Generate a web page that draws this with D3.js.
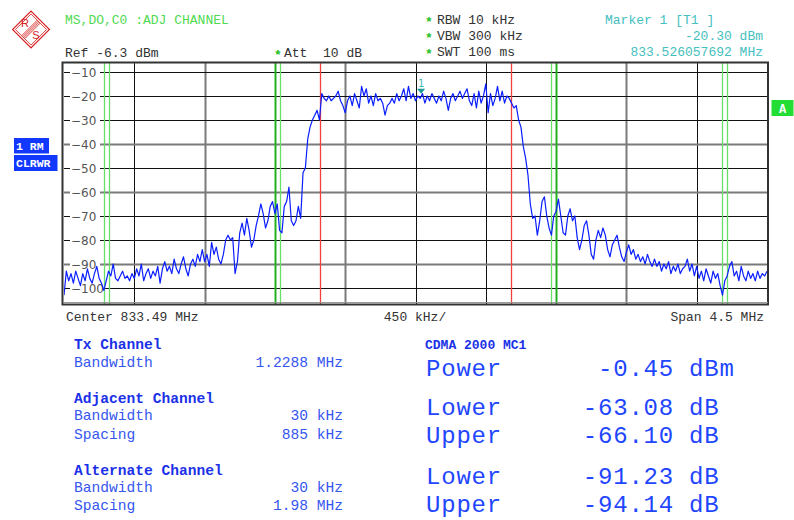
<!DOCTYPE html>
<html>
<head>
<meta charset="utf-8">
<script src="https://cdn.jsdelivr.net/npm/d3@7"></script>
<style>
body { margin: 0; background: #fff; }
svg { display: block; }
.mono { font-family: "Liberation Mono", "DejaVu Sans Mono", monospace; white-space: pre; }
</style>
</head>
<body>
<svg id="chart" width="794" height="520"></svg>
<script>
// analyzer settings
var centerMHz = 833.49;
var spanMHz = 4.5;
var refLevel = -6.3;
var rangeDb = 100;

var yTicks = [-10, -20, -30, -40, -50, -60, -70, -80, -90, -100];
var heavyY = [-40, -60, -90];      // grid lines that show as wide grey
var heavyX = [2, 4, 8];

// channel setup
var txBw = 1.2288;
var adjBw = 0.030, adjSpacing = 0.885;
var altBw = 0.030, altSpacing = 1.98;

var markerF = 833.526057692;
var markerV = -20.30;

// trace, 301 points across the span (dBm)
var trace = [
-103,-93,-97,-94,-98,-93,-96,-99,-94,-97,-92,-96,-98,-94,-91,-96,-98,-101,-97,-93,
-95,-90,-96,-97,-95,-93,-96,-95,-97,-94,-96,-92,-95,-90,-97,-94,-92,-96,-93,-95,
-91,-98,-92,-89,-93,-91,-94,-88,-92,-94,-90,-87,-92,-95,-90,-88,-91,-86,-89,-84,
-89,-86,-91,-81,-86,-83,-88,-90,-86,-80,-78,-80,-79,-94,-89,-77,-73,-78,-71,-76,
-83,-80,-74,-70,-65,-69,-75,-72,-66,-64,-69,-65,-76,-77,-66,-64,-58,-72,-74,-72,
-66,-71,-52,-50,-38,-33,-30,-28,-26,-30,-19,-21,-22,-20,-22,-21,-20,-18,-22,-24,
-27,-22,-20,-24,-19,-22,-25,-16,-20,-17,-23,-20,-24,-19,-22,-21,-23,-28,-24,-23,
-21,-23,-19,-22,-20,-17,-22,-16,-21,-19,-22,-20,-21,-19,-23,-20,-22,-19,-21,-23,
-20,-22,-18,-21,-26,-21,-19,-22,-20,-18,-21,-19,-17,-22,-24,-19,-25,-18,-23,-20,
-15,-27,-19,-24,-21,-16,-22,-18,-23,-20,-21,-23,-25,-24,-30,-33,-41,-46,-53,-65,
-71,-70,-78,-72,-64,-62,-70,-75,-78,-70,-68,-63,-70,-77,-78,-70,-67,-72,-70,-79,
-84,-80,-74,-72,-78,-86,-88,-80,-76,-79,-75,-78,-84,-87,-82,-80,-78,-83,-87,-89,
-85,-82,-86,-84,-88,-86,-89,-87,-90,-86,-89,-91,-88,-91,-89,-93,-90,-92,-89,-94,
-91,-93,-90,-94,-92,-91,-88,-93,-90,-95,-91,-96,-93,-97,-92,-95,-98,-93,-96,-94,
-99,-103,-97,-95,-91,-89,-95,-93,-97,-91,-95,-97,-93,-96,-94,-97,-93,-96,-94,-95,
-93
];

var svg = d3.select('#chart');

var plot = {left: 64, right: 767, top: 63.1, bottom: 303.1};

var fStart = centerMHz - spanMHz / 2,
    fStop = centerMHz + spanMHz / 2,
    fStep = spanMHz / (trace.length - 1);

var x = d3.scaleLinear().domain([fStart, fStop]).range([plot.left, plot.right]);
var y = d3.scaleLinear().domain([refLevel - rangeDb, refLevel]).range([plot.bottom, plot.top]);

// ---- logo
var logo = svg.append('g').attr('transform', 'translate(31,29.5)');
var sq = logo.append('g').attr('transform', 'rotate(45)');
sq.append('rect').attr('x', -13).attr('y', -13).attr('width', 26).attr('height', 26)
  .attr('fill', 'none').attr('stroke', '#d42020').attr('stroke-width', 1.2);
sq.append('rect').attr('x', -11).attr('y', -11).attr('width', 22).attr('height', 22)
  .attr('fill', 'none').attr('stroke', '#d42020').attr('stroke-width', 0.8);
[-2.2, -0.8, 0.6, 2].forEach(function(d) {
  sq.append('line').attr('x1', d).attr('x2', d).attr('y1', -11).attr('y2', 11)
    .attr('stroke', '#d42020').attr('stroke-width', 0.8);
});
logo.append('text').attr('x', -6).attr('y', -3).attr('text-anchor', 'middle')
  .attr('font-family', 'Liberation Sans, sans-serif').attr('font-size', 11)
  .attr('fill', '#d42020').text('R');
logo.append('text').attr('x', 5).attr('y', 9).attr('text-anchor', 'middle')
  .attr('font-family', 'Liberation Sans, sans-serif').attr('font-size', 11)
  .attr('fill', '#d42020').text('S');

// ---- header text
function label(xp, yp, s, color, opts) {
  opts = opts || {};
  return svg.append('text')
    .attr('class', 'mono')
    .attr('xml:space', 'preserve')
    .attr('x', xp).attr('y', yp)
    .attr('font-size', opts.size || 13)
    .attr('font-weight', opts.weight || 'normal')
    .attr('letter-spacing', opts.ls || 0)
    .attr('text-anchor', opts.anchor || 'start')
    .attr('fill', color)
    .text(s);
}

label(65, 24, 'MS,DO,C0 :ADJ CHANNEL', '#50da50');
label(65, 57, 'Ref -6.3 dBm', '#333');
label(274, 59, '*', '#20c020', {weight: 'bold'});
label(284, 57, 'Att  10 dB', '#333');

[['RBW 10 kHz', 24], ['VBW 300 kHz', 40], ['SWT 100 ms', 56]].forEach(function(r) {
  label(425, r[1] + 2, '*', '#20c020', {weight: 'bold'});
  label(437, r[1], r[0], '#333');
});

label(605, 24, 'Marker 1 [T1 ]', '#45c0c0');
label(763, 40, markerV.toFixed(2) + ' dBm', '#45c0c0', {anchor: 'end'});
label(763, 56, markerF.toFixed(9) + ' MHz', '#45c0c0', {anchor: 'end'});

// ---- side boxes
function box(x0, y0, w, h, fill, s) {
  svg.append('rect').attr('x', x0).attr('y', y0).attr('width', w).attr('height', h).attr('fill', fill);
  svg.append('text').attr('class', 'mono').attr('x', x0 + 2).attr('y', y0 + h - 4)
    .attr('font-size', 11.5).attr('font-weight', 'bold').attr('fill', '#fff').text(s);
}
box(14, 138, 35, 15.5, '#1238ff', '1 RM');
box(14, 155, 43.5, 16, '#1238ff', 'CLRWR');
svg.append('rect').attr('x', 771.5).attr('y', 100).attr('width', 22).attr('height', 16).attr('fill', '#22dd33');
svg.append('text').attr('class', 'mono').attr('x', 782.5).attr('y', 112.5).attr('text-anchor', 'middle')
  .attr('font-size', 12).attr('font-weight', 'bold').attr('fill', '#fff').text('A');

// ---- plot
var g = svg.append('g');
g.append('rect').attr('x', plot.left).attr('y', plot.top)
  .attr('width', plot.right - plot.left).attr('height', plot.bottom - plot.top).attr('fill', '#fff');

var xDivs = d3.range(1, 10);
g.selectAll('.vgrid').data(xDivs).enter().append('line')
  .attr('class', 'vgrid')
  .attr('x1', function(d) { return Math.round(x(fStart + d * spanMHz / 10)) + 0.5; })
  .attr('x2', function(d) { return Math.round(x(fStart + d * spanMHz / 10)) + 0.5; })
  .attr('y1', plot.top).attr('y2', plot.bottom + 1)
  .attr('stroke', function(d) { return heavyX.indexOf(d) >= 0 ? '#7a7a7a' : '#111'; })
  .attr('stroke-width', function(d) { return heavyX.indexOf(d) >= 0 ? 2 : 1; });

g.selectAll('.hgrid').data(yTicks).enter().append('line')
  .attr('class', 'hgrid')
  .attr('x1', plot.left).attr('x2', plot.right)
  .attr('y1', function(d) { return Math.round(y(d)) + 0.5; })
  .attr('y2', function(d) { return Math.round(y(d)) + 0.5; })
  .attr('stroke', function(d) { return heavyY.indexOf(d) >= 0 ? '#7a7a7a' : '#111'; })
  .attr('stroke-width', function(d) { return heavyY.indexOf(d) >= 0 ? 2 : 1; });

// y labels sit on a white patch that breaks the grid line
var yl = g.selectAll('.ylab').data(yTicks).enter().append('g').attr('class', 'ylab')
  .attr('transform', function(d) { return 'translate(0,' + (Math.round(y(d)) + 0.5) + ')'; });
yl.append('rect').attr('x', 70).attr('y', -6)
  .attr('width', function(d) { return d <= -100 ? 34 : 30; }).attr('height', 12).attr('fill', '#fff');
yl.append('text').attr('x', 71).attr('y', 4.5)
  .attr('font-family', 'DejaVu Sans, sans-serif').attr('font-size', 12).attr('fill', '#555')
  .text(function(d) { return '\u2212' + Math.abs(d); });

// channel lines
var chan = [
  {f: centerMHz - txBw / 2, c: '#f04040'},
  {f: centerMHz + txBw / 2, c: '#f04040'},
  {f: centerMHz - adjSpacing - adjBw / 2, c: '#22b022'},
  {f: centerMHz - adjSpacing + adjBw / 2, c: '#66e066'},
  {f: centerMHz + adjSpacing - adjBw / 2, c: '#66e066'},
  {f: centerMHz + adjSpacing + adjBw / 2, c: '#22b022'},
  {f: centerMHz - altSpacing - altBw / 2, c: '#66e066'},
  {f: centerMHz - altSpacing + altBw / 2, c: '#66e066'},
  {f: centerMHz + altSpacing - altBw / 2, c: '#66e066'},
  {f: centerMHz + altSpacing + altBw / 2, c: '#66e066'}
];
g.selectAll('.chan').data(chan).enter().append('line')
  .attr('class', 'chan')
  .attr('x1', function(d) { return Math.round(x(d.f)) + 0.5; })
  .attr('x2', function(d) { return Math.round(x(d.f)) + 0.5; })
  .attr('y1', plot.top).attr('y2', plot.bottom + 2)
  .attr('stroke', function(d) { return d.c; })
  .attr('stroke-width', function(d) { return d.c === '#22b022' ? 2 : 1.3; });

// trace
svg.append('clipPath').attr('id', 'clip').append('rect')
  .attr('x', plot.left).attr('y', plot.top)
  .attr('width', plot.right - plot.left).attr('height', plot.bottom - plot.top);

g.append('path')
  .attr('clip-path', 'url(#clip)')
  .attr('fill', 'none')
  .attr('stroke', '#0a1eff')
  .attr('stroke-width', 1.2)
  .attr('stroke-linejoin', 'round')
  .attr('d', d3.line()
    .x(function(d, i) { return x(fStart + i * fStep); })
    .y(function(d) { return y(d); })(trace));

// marker
var mx = x(markerF), my = y(markerV);
g.append('path')
  .attr('d', 'M' + (mx - 4) + ',' + (my - 8) + 'L' + (mx + 4) + ',' + (my - 8) + 'L' + mx + ',' + (my - 3) + 'Z')
  .attr('fill', '#1a9a9a');
g.append('text').attr('x', mx).attr('y', my - 10).attr('text-anchor', 'middle')
  .attr('font-family', 'DejaVu Sans, sans-serif').attr('font-size', 10).attr('fill', '#40b8b8').text('1');

// frame
svg.append('rect').attr('x', 62.5).attr('y', 62.5).attr('width', 705.5).attr('height', 242)
  .attr('fill', 'none').attr('stroke', '#333').attr('stroke-width', 2);
svg.append('line').attr('x1', 63).attr('x2', 768).attr('y1', 302.5).attr('y2', 302.5)
  .attr('stroke', '#999').attr('stroke-width', 1);

// ---- x axis text
label(66, 321, 'Center ' + centerMHz.toFixed(2) + ' MHz', '#333');
label(415, 321, (spanMHz / 10 * 1000) + ' kHz/', '#333', {anchor: 'middle'});
label(764, 321, 'Span ' + spanMHz + ' MHz', '#333', {anchor: 'end'});

// ---- channel table
var hdr = '#1a30e8', txt = '#3556f0';
label(74, 349, 'Tx Channel', hdr, {size: 14.6, weight: 'bold'});
label(74, 367, 'Bandwidth', txt, {size: 14.6});
label(343, 367, txBw.toFixed(4) + ' MHz', txt, {size: 14.6, anchor: 'end'});

label(74, 403, 'Adjacent Channel', hdr, {size: 14.6, weight: 'bold'});
label(74, 420, 'Bandwidth', txt, {size: 14.6});
label(343, 420, (adjBw * 1000) + ' kHz', txt, {size: 14.6, anchor: 'end'});
label(74, 439, 'Spacing', txt, {size: 14.6});
label(343, 439, (adjSpacing * 1000) + ' kHz', txt, {size: 14.6, anchor: 'end'});

label(74, 475, 'Alternate Channel', hdr, {size: 14.6, weight: 'bold'});
label(74, 492, 'Bandwidth', txt, {size: 14.6});
label(343, 492, (altBw * 1000) + ' kHz', txt, {size: 14.6, anchor: 'end'});
label(74, 510, 'Spacing', txt, {size: 14.6});
label(343, 510, altSpacing + ' MHz', txt, {size: 14.6, anchor: 'end'});

// ---- results
var resNames = ['Power', 'Lower', 'Upper', 'Lower', 'Upper'];
var resValues = [-0.45, -63.08, -66.10, -91.23, -94.14];
var resUnits = ['dBm', 'dB', 'dB', 'dB', 'dB'];
var resY = [376, 415, 443, 484, 512];

label(425, 349, 'CDMA 2000 MC1', hdr, {size: 13, weight: 'bold'});
var big = '#2246ff';
resNames.forEach(function(n, i) {
  label(426, resY[i], n, big, {size: 24, ls: 0.8});
  label(674, resY[i], resValues[i].toFixed(2), big, {size: 24, ls: 0.8, anchor: 'end'});
  label(689, resY[i], resUnits[i], big, {size: 24, ls: 0.8});
});
</script>
</body>
</html>
